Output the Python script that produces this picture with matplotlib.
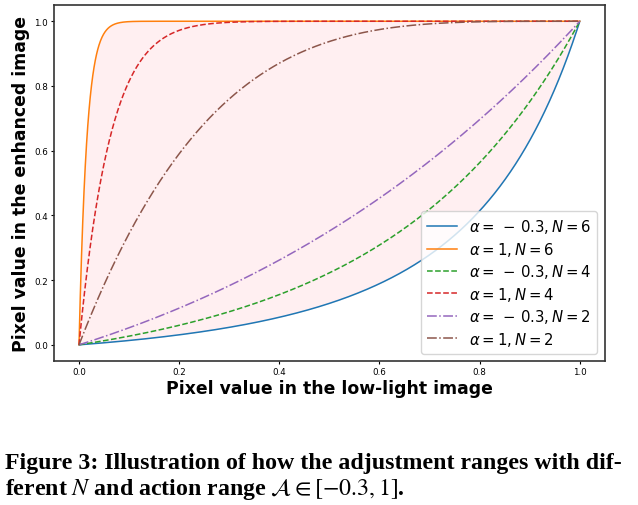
import numpy as np
import matplotlib
matplotlib.use("Agg")
import matplotlib.pyplot as plt

# curve parameters
alphas = [-0.3, 1, -0.3, 1, -0.3, 1]
iterations = [6, 6, 4, 4, 2, 2]
labels = [r"$\alpha = \,-\,0.3, N = 6$", r"$\alpha = 1, N = 6$",
          r"$\alpha = \,-\,0.3, N = 4$", r"$\alpha = 1, N = 4$",
          r"$\alpha = \,-\,0.3, N = 2$", r"$\alpha = 1, N = 2$"]
styles = ["-", "-", "--", "--", "-.", "-."]
colors = ["C0", "C1", "C2", "C3", "C4", "C5"]

x = np.linspace(0, 1, 2001)


def enhance(x, alpha, n):
    # quadratic light-enhancement curve applied n times
    y = x.copy()
    for _ in range(n):
        y = y + alpha * y * (1 - y)
    return y


fig = plt.figure(figsize=(6.38, 5.06), dpi=100)
ax = fig.add_axes([0.0846, 0.2846, 0.8634, 0.7034])

curves = [enhance(x, a, n) for a, n in zip(alphas, iterations)]
for y, lab, ls, c in zip(curves, labels, styles, colors):
    ax.plot(x, y, ls, color=c, label=lab, linewidth=1.1)

ax.fill_between(x, curves[0], curves[1], color="pink", alpha=0.25, linewidth=0)

for s in ax.spines.values():
    s.set_linewidth(1.2)
    s.set_color("#333333")
ax.tick_params(labelsize=6.3, length=2.4, pad=2, width=0.8)
ax.set_xlabel("Pixel value in the low-light image", fontsize=12.4,
              fontweight="bold", labelpad=2)
ax.set_ylabel("Pixel value in the enhanced image", fontsize=12.4,
              fontweight="bold", labelpad=3)
ax.legend(loc="lower right", fontsize=10.7, labelspacing=0.3)

fig.text(0.008, 0.0731,
         "Figure 3: Illustration of how the adjustment ranges with dif-",
         family="Liberation Serif", fontweight="bold", fontsize=17.2,
         va="baseline")
fig.text(0.008, 0.0217,
         r"ferent $N$ and action range $\mathcal{A} \in [-0.3, 1]$.",
         family="Liberation Serif", fontweight="bold", fontsize=17.2,
         math_fontfamily="stix", va="baseline")

fig.savefig("out.png", dpi=100)
